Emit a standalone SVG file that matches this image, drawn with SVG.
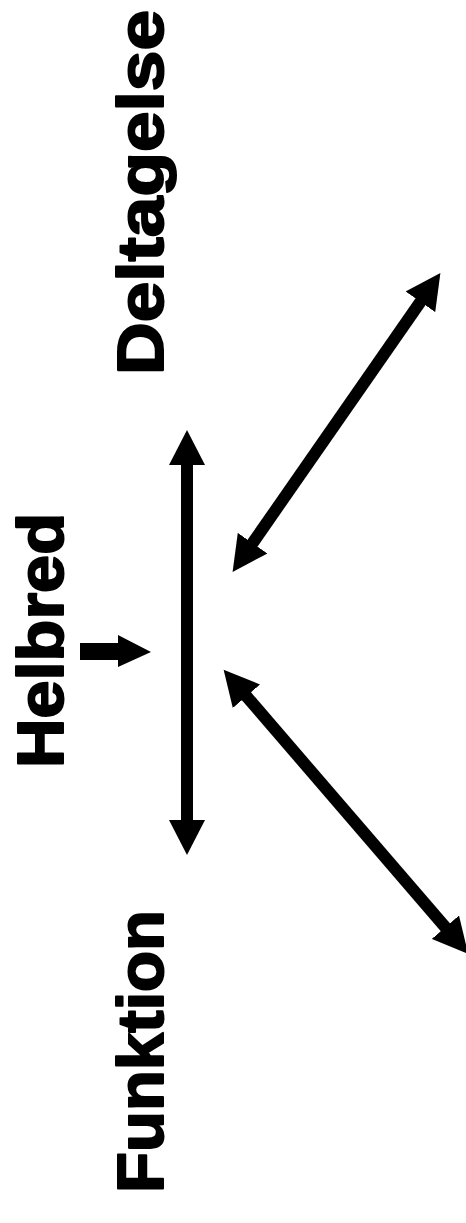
<svg xmlns="http://www.w3.org/2000/svg" width="466" height="1223" viewBox="0 0 466 1223">
  <style>
    .lbl { font-family: "Liberation Sans", Arial, sans-serif; font-weight: bold; font-size: 64px; fill: #000; stroke: #000; stroke-width: 2px; stroke-linejoin: round; }
    .shaft { stroke: #000; stroke-width: 12; fill: none; marker-start: url(#head); marker-end: url(#head); }
  </style>
  <defs>
    <marker id="head" markerUnits="userSpaceOnUse" markerWidth="36" markerHeight="36" viewBox="0 0 36 36" refX="1" refY="18" orient="auto-start-reverse">
      <path d="M0,0 L35,18 L0,36 Z" fill="#000"/>
    </marker>
  </defs>
  <rect width="466" height="1223" fill="#fff"/>
  <g id="deltagelse">
    <text class="lbl" transform="translate(163,375) rotate(-90)" textLength="365" lengthAdjust="spacingAndGlyphs">Deltagelse</text>
  </g>
  <g id="helbred">
    <text class="lbl" transform="translate(63,513) rotate(-90)" text-anchor="end" textLength="255" lengthAdjust="spacingAndGlyphs">Helbred</text>
  </g>
  <g id="funktion">
    <text class="lbl" transform="translate(163,1193) rotate(-90)" textLength="283" lengthAdjust="spacingAndGlyphs">Funktion</text>
  </g>
  <g id="connectors">
    <line class="shaft" x1="187" y1="464" x2="187" y2="821"/>
    <line class="shaft" x1="252" y1="544" x2="421" y2="301"/>
    <line class="shaft" x1="245.8" y1="695.5" x2="446" y2="928"/>
    <path d="M80,643 L118,643 L118,635 L151,652 L118,667 L118,660 L80,660 Z" fill="#000"/>
  </g>
</svg>
